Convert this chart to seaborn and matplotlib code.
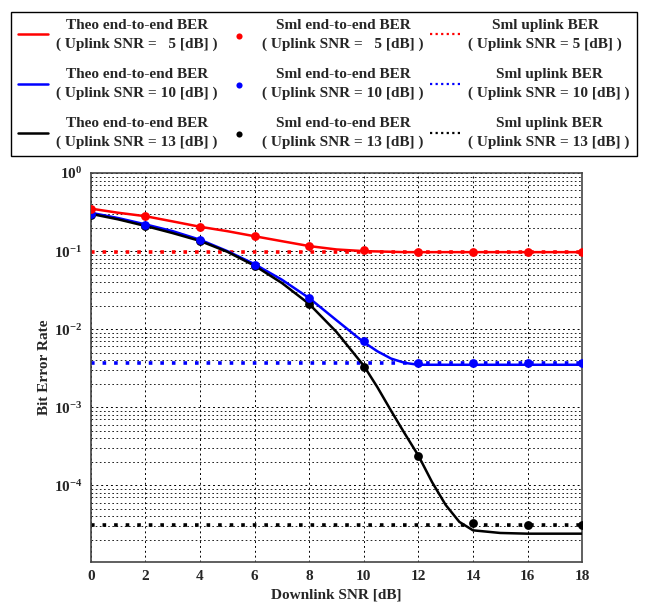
import numpy as np
import pandas as pd
import matplotlib
matplotlib.use("Agg")
import matplotlib.pyplot as plt
from matplotlib.ticker import LogLocator, NullFormatter, FixedLocator
import seaborn as sns

# downlink SNR grid for the theoretical curves and the simulated points
snr_theo = [0, 1, 2, 3, 4, 5, 6, 7, 8, 9, 10, 10.5, 11, 11.5, 12, 12.5, 13, 13.5, 14, 15, 16, 17, 18]
snr_sim = [0, 2, 4, 6, 8, 10, 12, 14, 16, 18]

# theoretical end-to-end BER
theo_5 = [0.35, 0.31, 0.28, 0.24, 0.205, 0.18, 0.155, 0.134, 0.116, 0.105,
          0.100, 0.099, 0.098, 0.097, 0.097, 0.097, 0.097, 0.097, 0.097, 0.097, 0.097, 0.097, 0.097]
theo_10 = [0.31, 0.265, 0.22, 0.18, 0.14, 0.10, 0.068, 0.043, 0.025, 0.013,
           0.0068, 0.0052, 0.0042, 0.0037, 0.0035, 0.0035, 0.0035, 0.0035, 0.0035,
           0.0035, 0.0035, 0.0035, 0.0035]
theo_13 = [0.30, 0.255, 0.21, 0.17, 0.135, 0.098, 0.065, 0.039, 0.021, 0.0092,
           0.0034, 0.0018, 0.0009, 4.6e-4, 2.4e-4, 1.1e-4, 5.6e-5, 3.4e-5, 2.65e-5,
           2.45e-5, 2.4e-5, 2.4e-5, 2.4e-5]

# simulated end-to-end BER
sml_5 = [0.35, 0.28, 0.205, 0.155, 0.116, 0.103, 0.097, 0.097, 0.097, 0.097]
sml_10 = [0.30, 0.215, 0.138, 0.066, 0.025, 0.0070, 0.0037, 0.0037, 0.0037, 0.0037]
sml_13 = [0.29, 0.21, 0.135, 0.064, 0.021, 0.0033, 2.4e-4, 3.3e-5, 3.1e-5, 3.1e-5]

# simulated uplink BER (does not depend on downlink SNR)
up_5 = [0.097] * len(snr_sim)
up_10 = [0.0037] * len(snr_sim)
up_13 = [3.1e-5] * len(snr_sim)

uplink_snr = [5, 10, 13]
colors = ["#ff0000", "#0000ff", "#000000"]

sns.set_theme(style="white")
plt.rcParams["font.family"] = ["Liberation Serif", "DejaVu Serif"]
plt.rcParams["font.weight"] = "bold"
plt.rcParams["mathtext.fontset"] = "custom"
plt.rcParams["mathtext.rm"] = "Liberation Serif:bold"
plt.rcParams["mathtext.it"] = "Liberation Serif:bold"

fig = plt.figure(figsize=(6.49, 6.04), dpi=100)
ax = fig.add_axes([0.140, 0.0695, 0.757, 0.644])

theo_sets = [theo_5, theo_10, theo_13]
sml_sets = [sml_5, sml_10, sml_13]
up_sets = [up_5, up_10, up_13]

theo_handles, sml_handles, up_handles = [], [], []
for snr, c, th, up in zip(uplink_snr, colors, theo_sets, up_sets):
    df_up = pd.DataFrame({"x": snr_sim, "y": up})
    sns.lineplot(data=df_up, x="x", y="y", ax=ax, color=c, linestyle=(0, (1, 2.2)),
                 linewidth=2.6, zorder=2)
    up_handles.append(ax.lines[-1])
    df_th = pd.DataFrame({"x": snr_theo, "y": th})
    sns.lineplot(data=df_th, x="x", y="y", ax=ax, color=c, linewidth=1.8, zorder=3)
    theo_handles.append(ax.lines[-1])

for snr, c, sm in zip(uplink_snr[::-1], colors[::-1], sml_sets[::-1]):
    df_sm = pd.DataFrame({"x": snr_sim, "y": sm})
    sns.scatterplot(data=df_sm, x="x", y="y", ax=ax, color=c, s=40,
                    edgecolor=c, linewidth=0, zorder=4)
    sml_handles.insert(0, ax.collections[-1])

ax.set_yscale("log")
ax.set_xlim(0, 18)
ax.set_ylim(1.04e-5, 1)
ax.xaxis.set_major_locator(FixedLocator(snr_sim))
ax.yaxis.set_major_locator(LogLocator(base=10, numticks=10))
ax.yaxis.set_minor_locator(LogLocator(base=10, subs=np.arange(2, 10), numticks=20))
ax.yaxis.set_minor_formatter(NullFormatter())

ax.grid(True, which="major", color="black", linestyle=(0, (2, 3)), linewidth=0.7)
ax.grid(True, which="minor", axis="y", color="black", linestyle=(0, (2, 3)), linewidth=0.6)
ax.set_axisbelow(True)

for sp in ax.spines.values():
    sp.set_color("#444444")
    sp.set_linewidth(1.2)
ax.tick_params(axis="both", which="major", labelsize=11, direction="in",
               length=4, color="#444444", pad=6)
ax.tick_params(axis="y", which="minor", direction="in", length=2)
for lab in ax.get_xticklabels() + ax.get_yticklabels():
    lab.set_fontweight("bold")

ax.set_xlabel("Downlink SNR [dB]", fontsize=11, fontweight="bold", labelpad=4)
ax.set_ylabel("Bit Error Rate", fontsize=11, fontweight="bold", labelpad=2)

theo_labels = ["Theo end-to-end BER\n( Uplink SNR =   %d [dB] )" % s if s < 10
               else "Theo end-to-end BER\n( Uplink SNR = %d [dB] )" % s for s in uplink_snr]
sml_labels = ["Sml end-to-end BER\n( Uplink SNR =   %d [dB] )" % s if s < 10
              else "Sml end-to-end BER\n( Uplink SNR = %d [dB] )" % s for s in uplink_snr]
up_labels = ["Sml uplink BER\n( Uplink SNR = %d [dB] )" % s for s in uplink_snr]

handles = theo_handles + sml_handles + up_handles
labels = theo_labels + sml_labels + up_labels
leg = fig.legend(handles, labels, ncol=3, loc="center",
                 bbox_to_anchor=(0.017, 0.737, 0.964, 0.248), mode="expand",
                 frameon=True, fancybox=False, edgecolor="black", framealpha=1,
                 prop={"family": "Liberation Serif", "weight": "bold", "size": 11},
                 handlelength=2.0, handletextpad=0.5, columnspacing=0.6,
                 labelspacing=1.15, borderpad=0.45, borderaxespad=0, markerscale=0.7)
leg.get_frame().set_linewidth(1.0)
for t in leg.get_texts():
    t.set_multialignment("center")
    t.set_linespacing(1.5)
for h in leg.legend_handles[6:]:
    h.set_linewidth(1.6)
    h.set_linestyle((0, (1, 1.5)))

fig.savefig("out.png", dpi=100)
